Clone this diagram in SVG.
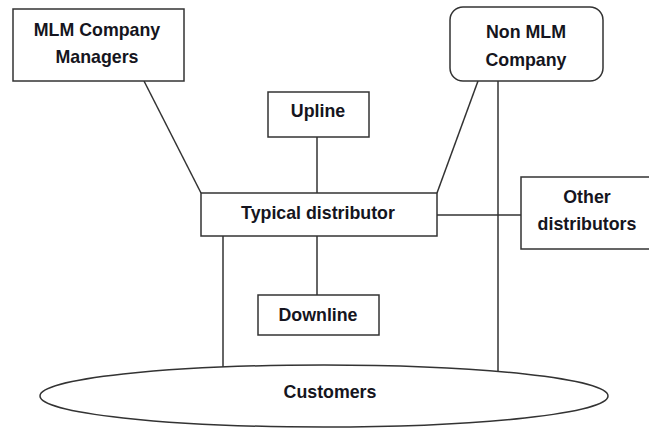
<svg xmlns="http://www.w3.org/2000/svg" width="649" height="430" viewBox="0 0 649 430">
<style>
.box{fill:#fff;stroke:#333;stroke-width:1.5}
.ln{stroke:#333;stroke-width:1.5;fill:none}
text{font-family:"Liberation Sans",Arial,sans-serif;font-weight:bold;font-size:17.8px;fill:#151520;text-anchor:middle}
</style>
<rect width="649" height="430" fill="#fff"/>
<g id="connectors">
<line class="ln" x1="144" y1="81" x2="201" y2="193"/>
<line class="ln" x1="478" y1="81" x2="437" y2="193"/>
<line class="ln" x1="317" y1="137" x2="317" y2="193"/>
<line class="ln" x1="317" y1="236" x2="317" y2="295"/>
<line class="ln" x1="437" y1="215" x2="521" y2="215"/>
<line class="ln" x1="498" y1="81" x2="498" y2="372"/>
<line class="ln" x1="223" y1="236" x2="223" y2="367"/>
</g>
<g id="mlm-managers">
<rect class="box" x="13" y="9" width="171" height="72"/>
<text x="97" y="36">MLM Company</text>
<text x="97" y="63">Managers</text>
</g>
<g id="non-mlm">
<rect class="box" x="450" y="7" width="153" height="74" rx="13"/>
<text x="526" y="38">Non MLM</text>
<text x="526" y="66">Company</text>
</g>
<g id="upline">
<rect class="box" x="268" y="92" width="101" height="45"/>
<text x="318" y="117">Upline</text>
</g>
<g id="typical">
<rect class="box" x="201" y="193" width="236" height="43"/>
<text x="318" y="219">Typical distributor</text>
</g>
<g id="other">
<rect class="box" x="521" y="177" width="132" height="72"/>
<text x="587" y="203">Other</text>
<text x="587" y="230">distributors</text>
</g>
<g id="downline">
<rect class="box" x="258" y="295" width="121" height="40"/>
<text x="318" y="321">Downline</text>
</g>
<g id="customers">
<ellipse class="box" cx="324" cy="396" rx="284" ry="31"/>
<text x="330" y="398">Customers</text>
</g>
</svg>
